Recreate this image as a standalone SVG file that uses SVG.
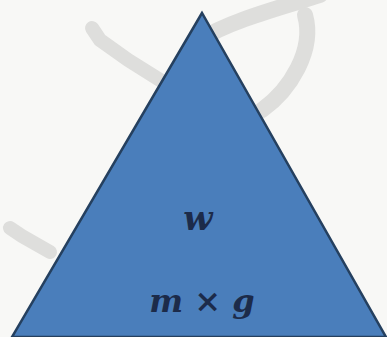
<svg xmlns="http://www.w3.org/2000/svg" width="387" height="337" viewBox="0 0 387 337">
<style>
.wm{fill:none;stroke:#dededc;stroke-linecap:round}
.lbl{font-family:"DejaVu Serif","Liberation Serif",serif;font-style:italic;font-weight:bold;fill:#1c2b4a;text-anchor:middle}
</style>
<rect width="387" height="337" fill="#f8f8f6"/>
<g id="watermark">
<path class="wm" d="M92 28 L100 40 L128 60 L160 80" stroke-width="14"/>
<path class="wm" d="M200 40 C230 20 290 5 320 -5" stroke-width="16"/>
<path class="wm" d="M305 15 C315 50 290 90 262 110" stroke-width="16"/>
<path class="wm" d="M10 228 L22 236 L50 252" stroke-width="14"/>
</g>
<g id="triangle">
<polygon points="202,13 12,337 386,337" fill="#4a7ebb" stroke="#25405f" stroke-width="2.5" stroke-linejoin="miter"/>
<text class="lbl" x="198" y="230" font-size="34">w</text>
<text class="lbl" x="202" y="312" font-size="32">m × g</text>
</g>
</svg>
